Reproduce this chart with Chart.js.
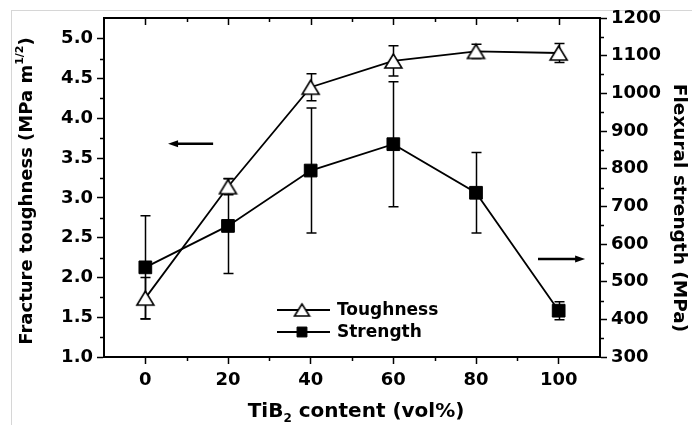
<!DOCTYPE html>
<html>
<head>
<meta charset="utf-8">
<script src="https://cdn.jsdelivr.net/npm/chart.js@4"></script>
<style>
  html, body { margin: 0; padding: 0; background: #fff; }
  #wrap { position: relative; width: 692px; height: 425px; overflow: hidden; }
  #frame { position: absolute; left: 11px; top: 10px; right: -5px; bottom: -5px; border-left: 1px solid #d6d6d6; border-top: 1px solid #d6d6d6; }
  #chart { position: absolute; left: 0; top: 0; }
</style>
</head>
<body>
<div id="wrap">
  <div id="frame"></div>
  <canvas id="chart" width="692" height="425"></canvas>
</div>
<script>
// TiB2 content (vol%)
const contentPct = [0, 20, 40, 60, 80, 100];
// fracture toughness, MPa m^1/2 (left axis)
const toughness = [1.74, 3.14, 4.39, 4.72, 4.84, 4.82];
const toughnessErr = [0.26, 0.10, 0.17, 0.19, 0.09, 0.12];
// flexural strength, MPa (right axis)
const strength = [538, 648, 795, 865, 736, 423];
const strengthErr = [137, 126, 166, 166, 107, 24];

const xTicks = [0, 20, 40, 60, 80, 100];
const xMinor = [10, 30, 50, 70, 90];
const leftTicks = [1.0, 1.5, 2.0, 2.5, 3.0, 3.5, 4.0, 4.5, 5.0];
const leftMinor = [1.25, 1.75, 2.25, 2.75, 3.25, 3.75, 4.25, 4.75];
const rightTicks = [300, 400, 500, 600, 700, 800, 900, 1000, 1100, 1200];
const rightMinor = [350, 450, 550, 650, 750, 850, 950, 1050, 1150];

const FONT = '"DejaVu Sans", "Liberation Sans", Arial, sans-serif';
const errors = { Toughness: toughnessErr, Strength: strengthErr };

function toPoints(ys) {
    return contentPct.map((x, i) => ({ x: x, y: ys[i] }));
}

// open triangle centred on its box (Origin style), used as pointStyle
function makeTriangle(w, h) {
    const c = document.createElement('canvas');
    c.width = w + 4; c.height = h + 4;
    const g = c.getContext('2d');
    g.lineWidth = 1.6;
    g.strokeStyle = '#000';
    g.fillStyle = '#fff';
    g.beginPath();
    g.moveTo(c.width / 2, 2);
    g.lineTo(2, h + 2);
    g.lineTo(w + 2, h + 2);
    g.closePath();
    g.fill();
    g.stroke();
    return c;
}
const triMarker = makeTriangle(17, 14);
const triLegend = makeTriangle(15, 12);

// error bars drawn under the markers
const errorBarPlugin = {
    id: 'errorBars',
    beforeDatasetsDraw(chart) {
        const ctx = chart.ctx;
        ctx.save();
        ctx.strokeStyle = '#000';
        ctx.lineWidth = 1.5;
        chart.data.datasets.forEach(ds => {
            const err = errors[ds.label];
            const yScale = chart.scales[ds.yAxisID];
            const xScale = chart.scales.x;
            ds.data.forEach((p, i) => {
                const px = Math.round(xScale.getPixelForValue(p.x)) + 0.5;
                const top = yScale.getPixelForValue(p.y + err[i]);
                const bot = yScale.getPixelForValue(p.y - err[i]);
                ctx.beginPath();
                ctx.moveTo(px, top); ctx.lineTo(px, bot);
                ctx.moveTo(px - 5, top); ctx.lineTo(px + 5, top);
                ctx.moveTo(px - 5, bot); ctx.lineTo(px + 5, bot);
                ctx.stroke();
            });
        });
        ctx.restore();
    }
};

function richText(ctx, parts, x, y, rot) {
    let total = 0;
    parts.forEach(p => {
        ctx.font = 'bold ' + p.size + 'px ' + FONT;
        p.w = ctx.measureText(p.t).width;
        total += p.w;
    });
    ctx.save();
    ctx.translate(x, y);
    ctx.rotate(rot);
    ctx.textAlign = 'left';
    ctx.textBaseline = 'alphabetic';
    ctx.fillStyle = '#000';
    let cx = -total / 2;
    parts.forEach(p => {
        ctx.font = 'bold ' + p.size + 'px ' + FONT;
        ctx.fillText(p.t, cx, p.dy || 0);
        cx += p.w;
    });
    ctx.restore();
}

function arrow(ctx, x1, x2, y, dir) {
    ctx.save();
    ctx.strokeStyle = '#000';
    ctx.fillStyle = '#000';
    ctx.lineWidth = 2.5;
    const tip = dir < 0 ? x1 : x2;
    const tail = dir < 0 ? x2 : x1;
    ctx.beginPath();
    ctx.moveTo(tail, y); ctx.lineTo(tip - dir * 8, y);
    ctx.stroke();
    ctx.beginPath();
    ctx.moveTo(tip, y);
    ctx.lineTo(tip - dir * 10, y - 3.5);
    ctx.lineTo(tip - dir * 10, y + 3.5);
    ctx.closePath();
    ctx.fill();
    ctx.restore();
}

const decorPlugin = {
    id: 'decor',
    afterDraw(chart) {
        const ctx = chart.ctx;
        const a = chart.chartArea;
        const x = chart.scales.x, yl = chart.scales.y, yr = chart.scales.y1;
        ctx.save();
        ctx.strokeStyle = '#000';
        ctx.lineWidth = 2;
        // top frame line
        ctx.beginPath();
        ctx.moveTo(a.left - 1, a.top); ctx.lineTo(a.right + 1, a.top);
        ctx.stroke();
        ctx.lineWidth = 1.5;
        ctx.beginPath();
        // top ticks, inward
        xTicks.forEach(v => { const p = Math.round(x.getPixelForValue(v)) + 0.5; ctx.moveTo(p, a.top); ctx.lineTo(p, a.top + 7); });
        xMinor.forEach(v => { const p = Math.round(x.getPixelForValue(v)) + 0.5; ctx.moveTo(p, a.top); ctx.lineTo(p, a.top + 4); });
        // minor ticks, outward
        xMinor.forEach(v => { const p = Math.round(x.getPixelForValue(v)) + 0.5; ctx.moveTo(p, a.bottom); ctx.lineTo(p, a.bottom + 4); });
        leftMinor.forEach(v => { const p = Math.round(yl.getPixelForValue(v)) + 0.5; ctx.moveTo(a.left, p); ctx.lineTo(a.left - 4, p); });
        rightMinor.forEach(v => { const p = Math.round(yr.getPixelForValue(v)) + 0.5; ctx.moveTo(a.right, p); ctx.lineTo(a.right + 4, p); });
        ctx.stroke();

        // arrows pointing at each series' axis
        arrow(ctx, x.getPixelForValue(5.5), x.getPixelForValue(16.4), yl.getPixelForValue(3.68), -1);
        arrow(ctx, x.getPixelForValue(95), x.getPixelForValue(106.4), yr.getPixelForValue(560), 1);

        // legend
        const lx = a.left + 173, rows = [a.top + 292, a.top + 314];
        chart.data.datasets.forEach((ds, i) => {
            const ly = rows[i];
            const tri = ds.label === 'Toughness';
            ctx.strokeStyle = '#000';
            ctx.lineWidth = 1.8;
            ctx.beginPath();
            ctx.moveTo(lx, ly); ctx.lineTo(lx + 53, ly);
            ctx.stroke();
            ctx.fillStyle = ds.pointBackgroundColor;
            ctx.lineWidth = 1;
            Chart.helpers.drawPoint(ctx, { pointStyle: tri ? triLegend : 'rect', rotation: 0, borderWidth: 1, radius: 7 },
                lx + 25, ly);
            ctx.fillStyle = '#000';
            ctx.font = 'bold 17px ' + FONT;
            ctx.textAlign = 'left';
            ctx.textBaseline = 'middle';
            ctx.fillText(ds.label, lx + 60, ly + 1);
        });

        // axis titles
        richText(ctx, [{ t: 'TiB', size: 20 }, { t: '2', size: 12, dy: 5.5 }, { t: ' content (vol%)', size: 20 }],
            (a.left + a.right) / 2 + 4, 416.5, 0);
        richText(ctx, [{ t: 'Fracture toughness (MPa m', size: 18 }, { t: '1/2', size: 11, dy: -9 }, { t: ')', size: 18 }],
            32, 191, -Math.PI / 2);
        richText(ctx, [{ t: 'Flexural strength (MPa)', size: 18.5 }], 674, 208, Math.PI / 2);
        ctx.restore();
    }
};

const tickFont = { family: FONT, size: 18, weight: 'bold' };
const axisGrid = { drawOnChartArea: false, drawTicks: true, tickLength: 7, tickWidth: 1.5, tickColor: '#000' };
const axisBorder = { display: true, color: '#000', width: 2 };

new Chart(document.getElementById('chart'), {
    type: 'line',
    data: {
        datasets: [
            {
                label: 'Toughness',
                data: toPoints(toughness),
                yAxisID: 'y',
                borderColor: '#000',
                borderWidth: 1.8,
                pointStyle: triMarker,
                pointRadius: 9,
                pointBackgroundColor: '#fff',
                pointBorderColor: '#000',
                tension: 0
            },
            {
                label: 'Strength',
                data: toPoints(strength),
                yAxisID: 'y1',
                borderColor: '#000',
                borderWidth: 1.8,
                pointStyle: 'rect',
                pointRadius: 9,
                pointBackgroundColor: '#000',
                pointBorderColor: '#000',
                pointBorderWidth: 1,
                tension: 0
            }
        ]
    },
    options: {
        responsive: false,
        animation: false,
        layout: { padding: { top: 18, left: 0, right: 0, bottom: 0 } },
        plugins: {
            legend: { display: false },
            tooltip: { enabled: false }
        },
        scales: {
            x: {
                type: 'linear',
                position: 'bottom',
                min: -10,
                max: 110,
                afterBuildTicks: s => { s.ticks = xTicks.map(v => ({ value: v })); },
                afterFit: s => { s.height = 68; },
                ticks: { font: tickFont, color: '#000', padding: 6, maxRotation: 0, callback: v => String(v) },
                grid: axisGrid,
                border: axisBorder
            },
            y: {
                type: 'linear',
                position: 'left',
                min: 1.0,
                max: 5.26,
                afterBuildTicks: s => { s.ticks = leftTicks.map(v => ({ value: v })); },
                afterFit: s => { s.width = 104; },
                ticks: { font: tickFont, color: '#000', padding: 4, callback: v => v.toFixed(1) },
                grid: axisGrid,
                border: axisBorder
            },
            y1: {
                type: 'linear',
                position: 'right',
                min: 300,
                max: 1200,
                afterBuildTicks: s => { s.ticks = rightTicks.map(v => ({ value: v })); },
                afterFit: s => { s.width = 92; },
                ticks: { font: tickFont, color: '#000', padding: 4, callback: v => String(v) },
                grid: axisGrid,
                border: axisBorder
            }
        }
    },
    plugins: [errorBarPlugin, decorPlugin]
});
</script>
</body>
</html>
